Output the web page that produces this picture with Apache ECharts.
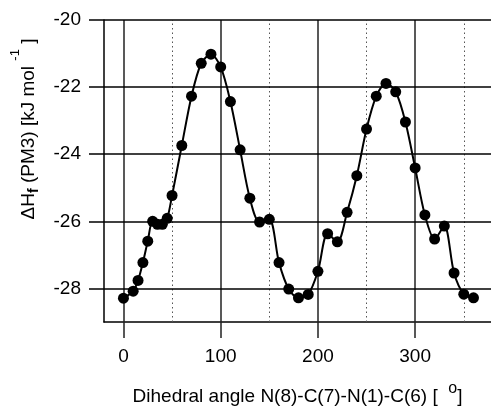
<!DOCTYPE html>
<html>
<head>
<meta charset="utf-8">
<script src="https://cdn.jsdelivr.net/npm/echarts@6/dist/echarts.min.js"></script>
<style>html,body{margin:0;padding:0;background:#fff}#c{width:491px;height:408px}</style>
</head>
<body>
<div id="c"></div>
<script>
var angles = [0,10,15,20,25,30,35,40,45,50,60,70,80,90,100,110,120,130,140,150,160,170,180,190,200,210,220,230,240,250,260,270,280,290,300,310,320,330,340,350,360];
var energies = [-28.29,-28.08,-27.76,-27.23,-26.59,-26.0,-26.09,-26.09,-25.91,-25.23,-23.74,-22.27,-21.29,-21.02,-21.40,-22.43,-23.87,-25.31,-26.02,-25.94,-27.23,-28.02,-28.28,-28.18,-27.49,-26.37,-26.61,-25.73,-24.64,-23.25,-22.27,-21.89,-22.14,-23.04,-24.41,-25.81,-26.53,-26.14,-27.54,-28.17,-28.28];
var xMajor = [0,100,200,300];
var xMinor = [50,150,250,350];
var yTicks = [-28,-26,-24,-22,-20];
var xLabels = ['0','100','200','300'];

var FONT = '"Liberation Sans", Arial, sans-serif';
var chart = echarts.init(document.getElementById('c'), null, {renderer:'canvas'});
var gridMarks = [];
xMajor.forEach(function(v){ gridMarks.push({xAxis:v, lineStyle:{color:'#222', width:1.5, type:'solid'}}); });
xMinor.forEach(function(v){ gridMarks.push({xAxis:v, lineStyle:{color:'#555', width:1, type:[1.5,3]}}); });
yTicks.forEach(function(v){ gridMarks.push({yAxis:v, lineStyle:{color:'#000', width:1.5, type:'solid'}}); });

chart.setOption({
  animation:false,
  backgroundColor:'#fff',
  grid:{left:104, top:20, width:387, height:302, containLabel:false, outerBoundsMode:'none'},
  xAxis:{
    type:'value', min:-20, max:378,
    axisLine:{show:true, onZero:false, lineStyle:{color:'#000', width:1.5}},
    axisTick:{show:true, customValues:xMajor, length:16, lineStyle:{color:'#222', width:1.5}},
    axisLabel:{customValues:xMajor, formatter:function(v){return xLabels[xMajor.indexOf(v)];}, color:'#000', fontSize:19, fontFamily:FONT, margin:25},
    splitLine:{show:false},
    name:'{a|Dihedral angle N(8)-C(7)-N(1)-C(6) [  }{sup|o}{a|]}',
    nameLocation:'middle', nameGap:55,
    nameTextStyle:{rich:{
      a:{fontSize:19, fontFamily:FONT, color:'#000', lineHeight:40, verticalAlign:'middle'},
      sup:{fontSize:16, fontFamily:FONT, color:'#000', verticalAlign:'top', padding:[4,0,0,0]}
    }}
  },
  yAxis:{
    type:'value', min:-29, max:-20,
    axisLine:{show:true, onZero:false, lineStyle:{color:'#000', width:1.5}},
    axisTick:{show:true, customValues:yTicks, length:15, lineStyle:{color:'#000', width:1.5}},
    axisLabel:{customValues:yTicks, color:'#000', fontSize:19, fontFamily:FONT, margin:23},
    splitLine:{show:false},
    name:'{a|ΔH}{sub|f}{a| (PM3) [kJ mol }{sup|-1}{a| ]}',
    nameLocation:'middle', nameGap:55, nameRotate:90,
    nameTextStyle:{padding:[0,0,0,84], rich:{
      a:{fontSize:19, fontFamily:FONT, color:'#000', lineHeight:40, verticalAlign:'middle'},
      sub:{fontSize:14, fontFamily:FONT, color:'#000', fontWeight:'bold', verticalAlign:'top', padding:[18,0,0,0]},
      sup:{fontSize:13, fontFamily:FONT, color:'#000', verticalAlign:'top'}
    }}
  },
  series:[{
    type:'line',
    data:angles.map(function(a,i){return [a, energies[i]];}),
    smooth:0.3,
    symbol:'circle', symbolSize:11,
    itemStyle:{color:'#000'},
    lineStyle:{color:'#000', width:2},
    z:5,
    markLine:{silent:true, symbol:'none', label:{show:false}, data:gridMarks, z:1, animation:false}
  }]
});
</script>
</body>
</html>
